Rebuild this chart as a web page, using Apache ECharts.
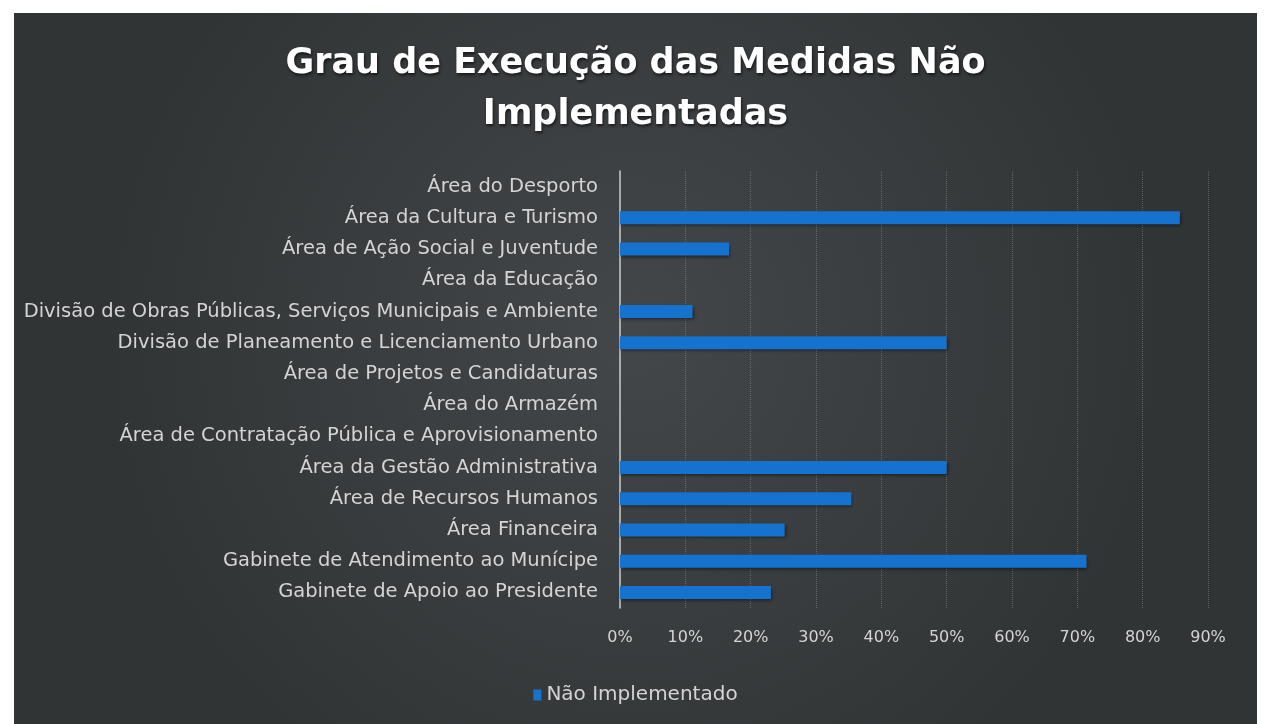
<!DOCTYPE html>
<html>
<head>
<meta charset="utf-8">
<title>Grau de Execução das Medidas Não Implementadas</title>
<script src="https://cdn.jsdelivr.net/npm/echarts@6/dist/echarts.min.js"></script>
<style>
  html, body { margin: 0; padding: 0; background: #ffffff; width: 1267px; height: 724px; overflow: hidden; }
  #main { position: absolute; left: 14px; top: 13px; width: 1243px; height: 711px; }
</style>
</head>
<body>
<div id="main"></div>
<script>
  // categorias, de cima para baixo como no gráfico
  var categorias = [
    'Área do Desporto',
    'Área da Cultura e Turismo',
    'Área de Ação Social e Juventude',
    'Área da Educação',
    'Divisão de Obras Públicas, Serviços Municipais e Ambiente',
    'Divisão de Planeamento e Licenciamento Urbano',
    'Área de Projetos e Candidaturas',
    'Área do Armazém',
    'Área de Contratação Pública e Aprovisionamento',
    'Área da Gestão Administrativa',
    'Área de Recursos Humanos',
    'Área Financeira',
    'Gabinete de Atendimento ao Munícipe',
    'Gabinete de Apoio ao Presidente'
  ];
  // valores (fração)
  var naoImplementado = [0, 0.857, 0.167, 0, 0.111, 0.50, 0, 0, 0, 0.50, 0.354, 0.252, 0.714, 0.231];
  var eixoMax = 0.9;
  var eixoPasso = 0.1;

  var font = 'DejaVu Sans';
  var chart = echarts.init(document.getElementById('main'));
  chart.setOption({
    backgroundColor: {
      type: 'radial', x: 0.5, y: 0.45, r: 0.75,
      colorStops: [
        { offset: 0, color: '#44474a' },
        { offset: 1, color: '#303435' }
      ]
    },
    title: {
      text: 'Grau de Execução das Medidas Não\nImplementadas',
      left: 'center',
      top: 25,
      padding: 0,
      textStyle: {
        fontFamily: font,
        fontSize: 35,
        fontWeight: 'bold',
        color: '#ffffff',
        lineHeight: 51,
        textShadowColor: 'rgba(0,0,0,0.6)',
        textShadowBlur: 3,
        textShadowOffsetX: 1,
        textShadowOffsetY: 2
      }
    },
    legend: {
      data: ['Não Implementado'],
      left: 'center',
      top: 667,
      itemWidth: 8,
      itemHeight: 11,
      icon: 'rect',
      textStyle: { fontFamily: font, fontSize: 20, color: '#d4d4d4' }
    },
    grid: { left: 606, right: 49, top: 158, bottom: 116 },
    xAxis: {
      type: 'value',
      min: 0,
      max: eixoMax,
      interval: eixoPasso,
      axisLine: { show: false },
      axisTick: { show: false },
      axisLabel: {
        fontFamily: font,
        fontSize: 16,
        color: '#d4d4d4',
        margin: 22,
        formatter: function (v) { return Math.round(v * 100) + '%'; }
      },
      splitLine: {
        show: true,
        lineStyle: { color: 'rgba(200,200,200,0.3)', type: 'dotted', width: 1 }
      }
    },
    yAxis: {
      type: 'category',
      data: categorias,
      inverse: true,
      axisLine: { show: true, lineStyle: { color: '#c8c8c8', width: 1.5 } },
      axisTick: { show: false },
      axisLabel: {
        fontFamily: font,
        fontSize: 19.5,
        color: '#d4d4d4',
        margin: 22
      }
    },
    series: [
      {
        name: 'Não Implementado',
        type: 'bar',
        data: naoImplementado,
        barWidth: 13,
        itemStyle: {
          color: '#1672cf',
          shadowColor: 'rgba(0,0,0,0.45)',
          shadowBlur: 3,
          shadowOffsetX: 1,
          shadowOffsetY: 2
        }
      }
    ],
    animation: false
  });
</script>
</body>
</html>
